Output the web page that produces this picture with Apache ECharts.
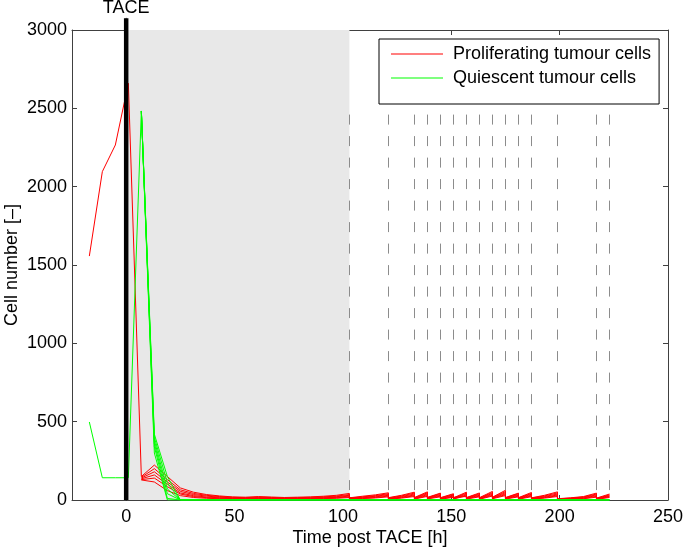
<!DOCTYPE html>
<html>
<head>
<meta charset="utf-8">
<script src="https://cdn.jsdelivr.net/npm/echarts@6/dist/echarts.min.js"></script>
<style>
  html, body { margin: 0; padding: 0; background: #fff; }
  #container { width: 685px; height: 548px; }
</style>
</head>
<body>
<div id="container"></div>
<script>
    // time points before / at TACE, shared by all runs
    var tPre = [-17, -11, -5, 1, 7];
    var redPre = [1557, 2096, 2266, 2660, 150];
    var greenPre = [498, 142, 142, 142, 2483];

    // time points after TACE (repeated times = drop at a treatment)
    var tRed = [7, 13, 19, 25, 31, 37, 43, 49, 55, 61, 67, 73, 79, 85, 91, 97, 103,
        103, 109, 115, 121, 121, 127, 133, 133, 139, 139, 145, 145, 151, 151, 157,
        157, 163, 163, 169, 169, 175, 175, 181, 181, 187, 187, 193, 199,
        199, 205, 211, 217, 217, 223];
    var red1 = [150, 223, 150, 77, 50, 35, 26, 20, 18, 22, 19, 16, 18, 20, 24, 30, 42,
        14, 24, 33, 46, 15, 30, 50, 16, 52, 17, 44, 15, 40, 14, 50,
        16, 45, 15, 55, 18, 62, 16, 44, 15, 48, 14, 30, 52,
        8, 14, 22, 44, 12, 38];
    var red2 = [145, 200, 130, 65, 42, 30, 22, 17, 15, 18, 16, 14, 15, 17, 20, 25, 35,
        12, 20, 28, 40, 13, 26, 44, 14, 46, 15, 40, 13, 36, 12, 44,
        14, 40, 13, 48, 16, 54, 14, 40, 13, 42, 12, 26, 45,
        7, 12, 19, 38, 10, 33];
    var red3 = [140, 180, 115, 55, 35, 25, 18, 14, 12, 15, 13, 11, 12, 14, 17, 21, 30,
        10, 17, 24, 35, 11, 22, 38, 12, 40, 13, 35, 11, 31, 10, 38,
        12, 35, 11, 42, 14, 47, 12, 35, 11, 37, 10, 22, 38,
        6, 10, 16, 33, 9, 28];
    var red4 = [135, 160, 100, 45, 28, 19, 14, 11, 10, 12, 10, 9, 10, 11, 14, 17, 25,
        8, 14, 20, 30, 9, 18, 32, 10, 34, 11, 30, 9, 26, 8, 32,
        10, 30, 9, 36, 12, 40, 10, 30, 9, 31, 8, 18, 32,
        5, 8, 13, 28, 7, 24];
    var red5 = [130, 140, 85, 38, 22, 15, 11, 9, 8, 10, 8, 7, 8, 9, 11, 14, 20,
        6, 11, 16, 25, 7, 15, 27, 8, 28, 9, 25, 7, 21, 6, 27,
        8, 25, 7, 30, 10, 34, 8, 25, 7, 26, 6, 15, 27,
        4, 6, 10, 23, 5, 20];
    var red6 = [128, 115, 60, 28, 16, 11, 8, 6, 6, 8, 6, 5, 6, 7, 9, 11, 16,
        5, 9, 13, 20, 5, 12, 22, 6, 23, 7, 20, 5, 17, 5, 22,
        6, 20, 5, 25, 8, 28, 6, 20, 5, 21, 5, 12, 22,
        3, 5, 8, 18, 4, 16];

    var tGreen = [7, 13, 19, 25, 223];
    var green1 = [2483, 420, 150, 0, 0];
    var green2 = [2483, 400, 110, 0, 0];
    var green3 = [2483, 380, 70, 0, 0];
    var green4 = [2483, 360, 40, 0, 0];
    var green5 = [2483, 340, 10, 0, 0];
    var green6 = [2483, 300, 0, 0, 0];

    // treatment times (dashed lines) and the shaded period
    var dashT = [103, 121, 133, 139, 145, 151, 157, 163, 169, 175, 181, 187, 199, 217, 223];
    var dashTop = 2460;
    var shadeEnd = 103;
    var taceTop = 3075;
    var xTicks = [0, 50, 100, 150, 200, 250];

    var RED = 'Proliferating tumour cells';
    var GREEN = 'Quiescent tumour cells';
    var FONT = 'Liberation Sans';
    var AXIS_COLOR = '#404040';

    function pairs(ts, vs)
    {
        var out = [];
        for (var i = 0; i < ts.length; i++)
            out.push([ts[i], vs[i]]);
        return out;
    }

    function lineSeries(name, color, data, z)
    {
        return {
            name: name,
            type: 'line',
            data: data,
            symbol: 'none',
            z: z,
            lineStyle: { color: color, width: 1 },
            itemStyle: { color: color }
        };
    }

    var series = [];
    // shaded TACE period and dashed treatment lines
    series.push({
        name: 'bg',
        type: 'line',
        data: [],
        z: 1,
        markArea: {
            silent: true,
            itemStyle: { color: '#e8e8e8' },
            data: [[{ xAxis: 0 }, { xAxis: shadeEnd }]]
        },
        markLine: {
            silent: true,
            symbol: ['none', 'none'],
            label: { show: false },
            lineStyle: { color: '#8c8c8c', width: 1, type: [10, 11.5] },
            data: dashT.map(function (t) { return [{ coord: [t, dashTop] }, { coord: [t, 0] }]; })
        }
    });

    series.push(lineSeries(RED, '#ff0000', pairs(tPre, redPre), 3));
    [red1, red2, red3, red4, red5, red6].forEach(function (r) {
        series.push(lineSeries(RED, '#ff0000', pairs(tRed, r), 3));
    });
    series.push(lineSeries(GREEN, '#00ff00', pairs(tPre, greenPre), 4));
    [green1, green2, green3, green4, green5, green6].forEach(function (g) {
        series.push(lineSeries(GREEN, '#00ff00', pairs(tGreen, g), 4));
    });

    // TACE line, drawn slightly above the frame
    series.push({
        name: 'TACE',
        type: 'line',
        clip: false,
        z: 6,
        symbol: 'circle',
        symbolSize: 1,
        itemStyle: { color: '#000' },
        lineStyle: { color: '#000', width: 4.5 },
        data: [[0, 0], {
            value: [0, taceTop],
            label: { show: true, position: 'top', distance: 1, formatter: 'TACE',
                fontFamily: FONT, fontSize: 18, lineHeight: 18, color: '#000' }
        }]
    });

    function xAxisCfg(pos, labels)
    {
        return {
            type: 'value',
            position: pos,
            min: -25,
            max: 250,
            name: labels ? 'Time post TACE [h]' : '',
            nameLocation: 'middle',
            nameGap: 29,
            nameMoveOverlap: false,
            nameTextStyle: { fontFamily: FONT, fontSize: 18, color: '#000' },
            splitLine: { show: false },
            axisLine: { show: true, onZero: false, lineStyle: { color: AXIS_COLOR, width: 1 } },
            axisTick: { inside: true, length: 5, customValues: xTicks, lineStyle: { color: AXIS_COLOR } },
            axisLabel: { show: labels, customValues: xTicks, margin: 8,
                fontFamily: FONT, fontSize: 18, color: '#000' }
        };
    }

    function yAxisCfg(pos, labels)
    {
        return {
            type: 'value',
            position: pos,
            min: 0,
            max: 3000,
            interval: 500,
            name: labels ? 'Cell number [–]' : '',
            nameLocation: 'middle',
            nameGap: 51,
            nameMoveOverlap: false,
            nameTextStyle: { fontFamily: FONT, fontSize: 18, color: '#000' },
            splitLine: { show: false },
            axisLine: { show: true, onZero: false, lineStyle: { color: AXIS_COLOR, width: 1 } },
            axisTick: { show: true, inside: true, length: 5, lineStyle: { color: AXIS_COLOR } },
            axisLabel: { show: labels, margin: 5, fontFamily: FONT, fontSize: 18, color: '#000',
                formatter: function (v) { return String(v); } }
        };
    }

    var myChart = echarts.init(document.getElementById('container'));
    myChart.setOption({
        animation: false,
        backgroundColor: '#fff',
        grid: { left: 72, right: 17, top: 30, bottom: 48, outerBoundsMode: 'none', containLabel: false },
        legend: {
            data: [RED, GREEN],
            orient: 'vertical',
            left: 379,
            top: 39,
            padding: [5, 8, 16, 12],
            icon: 'rect',
            itemWidth: 52,
            itemHeight: 1,
            itemGap: 4,
            backgroundColor: '#fff',
            borderColor: '#000',
            borderWidth: 1,
            textStyle: { fontFamily: FONT, fontSize: 18, lineHeight: 20, color: '#000', padding: [0, 0, 0, 5] }
        },
        xAxis: [xAxisCfg('bottom', true), xAxisCfg('top', false)],
        yAxis: [yAxisCfg('left', true), yAxisCfg('right', false)],
        series: series
    });
</script>
</body>
</html>
